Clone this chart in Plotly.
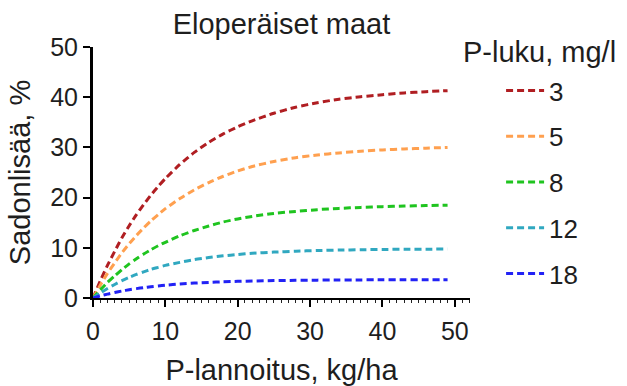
import plotly.graph_objects as go

# P-lannoitus, kg/ha
x_vals = [0, 1, 2, 3, 4, 5, 6, 7, 8, 9, 10, 12, 14, 16, 18, 20, 22, 25, 28, 31, 34, 37, 40, 43, 46, 49]

# Sadonlisää, % by P-luku (mg/l)
series_names = ["3", "5", "8", "12", "18"]
y_p3 = [0, 3.4, 6.5, 9.3, 12.0, 14.4, 16.6, 18.6, 20.5, 22.2, 23.8, 26.6, 29.0, 31.0, 32.7, 34.1, 35.3, 36.8, 38.0, 38.9, 39.6, 40.1, 40.5, 40.85, 41.1, 41.3]
y_p5 = [0, 2.55, 4.9, 7.0, 9.0, 10.8, 12.45, 13.95, 15.35, 16.6, 17.8, 19.8, 21.55, 23.0, 24.25, 25.3, 26.2, 27.2, 27.95, 28.5, 28.9, 29.25, 29.5, 29.7, 29.85, 30.0]
y_p8 = [0, 1.6, 3.1, 4.4, 5.65, 6.8, 7.8, 8.75, 9.6, 10.4, 11.1, 12.4, 13.45, 14.35, 15.15, 15.75, 16.25, 16.85, 17.25, 17.6, 17.85, 18.05, 18.2, 18.32, 18.42, 18.5]
y_p12 = [0, 1.0, 1.9, 2.7, 3.45, 4.1, 4.7, 5.2, 5.7, 6.1, 6.5, 7.1, 7.65, 8.05, 8.4, 8.67, 8.9, 9.14, 9.32, 9.45, 9.55, 9.62, 9.67, 9.71, 9.73, 9.75]
y_p18 = [0, 0.41, 0.78, 1.1, 1.39, 1.65, 1.87, 2.07, 2.25, 2.41, 2.55, 2.79, 2.97, 3.11, 3.23, 3.32, 3.39, 3.47, 3.52, 3.56, 3.59, 3.61, 3.62, 3.63, 3.64, 3.64]
series_values = [y_p3, y_p5, y_p8, y_p12, y_p18]
colors = ["#b01e22", "#ffa04f", "#1fc41f", "#30a8c0", "#2222f5"]

x_ticks = [0, 10, 20, 30, 40, 50]
y_ticks = [0, 10, 20, 30, 40, 50]

FONT = "Liberation Sans, Arial, Helvetica, sans-serif"
TXT = "#1e1e1e"

fig = go.Figure()
for name, ys, c in zip(series_names, series_values, colors):
    fig.add_trace(go.Scatter(
        x=x_vals, y=ys, name=name, mode="lines", legendgroup=name,
        line=dict(color=c, width=3, dash="7px,4px", shape="spline", smoothing=0.6),
    ))

fig.update_layout(
    width=627, height=386,
    margin=dict(l=93, r=157, t=47, b=88),
    paper_bgcolor="white", plot_bgcolor="white",
    font=dict(family=FONT, color=TXT, size=25),
    title=dict(text="Eloperäiset maat", x=0.5, xref="paper", xanchor="center",
               y=1 - 24 / 386, yref="container", yanchor="middle",
               font=dict(size=29, color=TXT)),
    showlegend=True,
    legend=dict(x=(500 - 93) / 376, xanchor="left", y=1 - (67 - 47) / 251, yanchor="top",
                font=dict(size=26, color=TXT), tracegroupgap=9, itemwidth=38,
                maxheight=600,
                bgcolor="rgba(0,0,0,0)", borderwidth=0),
)

fig.update_xaxes(
    range=[0, 52.1], tickvals=x_ticks, ticktext=[str(v) for v in x_ticks],
    showgrid=False, zeroline=False, showline=True, linecolor="black", linewidth=2,
    ticks="outside", ticklen=7, tickwidth=2, tickcolor="black",
    tickfont=dict(size=25, color=TXT), ticklabelstandoff=3, automargin=False,
    minor=dict(tickmode="linear", dtick=1, tick0=0, ticks="outside", ticklen=3,
               tickwidth=1, tickcolor="#222", showgrid=False),
    title=dict(text="P-lannoitus, kg/ha", font=dict(size=29, color=TXT), standoff=26),
)
fig.update_yaxes(
    range=[0, 50], tickvals=y_ticks, ticktext=[str(v) for v in y_ticks],
    showgrid=False, zeroline=False, showline=True, linecolor="black", linewidth=3,
    ticks="outside", ticklen=7, tickwidth=2, tickcolor="black",
    tickfont=dict(size=25, color=TXT), automargin=False,
    title=dict(text="Sadonlisää, %", font=dict(size=29, color=TXT), standoff=12),
)

fig.add_annotation(text="P-luku, mg/l", xref="paper", yref="paper",
                   x=(460 - 93) / 376, xanchor="left",
                   y=1 - (52 - 47) / 251, yanchor="middle",
                   showarrow=False, font=dict(size=29, color=TXT))

fig.write_html("out.html")
